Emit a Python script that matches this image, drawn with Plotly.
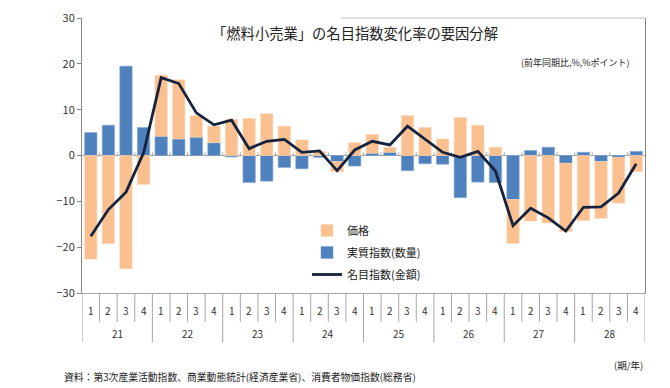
import plotly.graph_objects as go

# ---- data ----
years = ["21", "22", "23", "24", "25", "26", "27", "28"]
quarters = ["1", "2", "3", "4"]

real_index = [5.0, 6.6, 19.5, 6.1, 4.2, 3.6, 4.0, 2.8,
              -0.3, -5.9, -5.6, -2.6, -2.9, -0.4, -1.3, -2.3,
              0.5, 0.7, -3.3, -1.8, -1.9, -9.2, -5.8, -5.9,
              -9.6, 1.1, 1.8, -1.7, 0.7, -1.3, -0.4, 0.9]
price = [-22.6, -19.2, -24.7, -6.3, 13.3, 12.9, 4.7, 3.6,
         7.9, 8.1, 9.1, 6.4, 3.4, 0.9, -2.2, 2.8,
         4.1, 1.1, 8.7, 6.1, 3.6, 8.3, 6.6, 1.8,
         -9.6, -14.3, -14.7, -14.9, -14.2, -12.4, -10.0, -3.5]
nominal = [-17.6, -11.8, -8.0, 0.6, 17.0, 15.7, 9.3, 6.7,
           7.7, 1.5, 3.1, 3.5, 0.7, 1.0, -3.3, 1.2,
           3.1, 2.3, 6.4, 3.6, 0.7, -0.4, 0.9, -3.4,
           -15.3, -11.5, -13.6, -16.5, -11.3, -11.2, -8.2, -1.8]

title_text = "「燃料小売業」の名目指数変化率の要因分解"
unit_text = "(前年同期比,%,%ポイント)"
xunit_text = "(期/年)"
source_text = "資料：第3次産業活動指数、商業動態統計(経済産業省)、消費者物価指数(総務省)"

FONT = "Noto Sans CJK JP, Noto Sans, sans-serif"
n = len(real_index)
x = list(range(n))

# plot-area geometry in page pixels (page body has an 8px margin)
PL, PR, PT, PB = 82, 645, 18, 293
PW, PH = PR - PL, PB - PT


def px(v):
    return (v - PL) / PW


def py(v):
    return (PB - v) / PH


fig = go.Figure()
fig.add_trace(go.Bar(
    x=x, y=real_index, name="実質指数(数量)",
    marker=dict(color="#4F81BD", line=dict(color="#7FA3D3", width=0.6)),
    width=0.7, legendrank=2, legendgroup="b"))
fig.add_trace(go.Bar(
    x=x, y=price, name="価格",
    marker=dict(color="#FAC090", line=dict(color="#FCD5B4", width=0.6)),
    width=0.7, legendrank=1, legendgroup="a"))
fig.add_trace(go.Scatter(
    x=x, y=nominal, name="名目指数(金額)", mode="lines",
    line=dict(color="#15233D", width=2.8), legendrank=3, legendgroup="c"))

shapes = []
shapes.append(dict(type="line", xref="paper", yref="y", x0=0, x1=1, y0=0, y1=0,
                   line=dict(color="#A6A6A6", width=1), layer="below"))
for b in range(n + 1):
    xb = b - 0.5
    if 0 < b < n:
        shapes.append(dict(type="line", xref="x", yref="y", x0=xb, x1=xb, y0=0, y1=0.7,
                           line=dict(color="#A6A6A6", width=1), layer="below"))
    yend = -0.18 if b % 4 == 0 else -0.105
    shapes.append(dict(type="line", xref="x", yref="paper", x0=xb, x1=xb, y0=0, y1=yend,
                       line=dict(color="#A6A6A6", width=1)))
shapes.append(dict(type="line", xref="paper", yref="paper", x0=0.46, x1=1, y0=1, y1=1,
                   line=dict(color="#BFBFBF", width=1)))

annotations = []
for i in range(n):
    annotations.append(dict(x=i, y=py(310), xref="x", yref="paper",
                            xanchor="center", yanchor="middle",
                            text=quarters[i % 4], showarrow=False,
                            font=dict(size=10, color="#333333", family=FONT)))
for j, yr in enumerate(years):
    annotations.append(dict(x=j * 4 + 1.5, y=py(333), xref="x", yref="paper",
                            xanchor="center", yanchor="middle",
                            text=yr, showarrow=False,
                            font=dict(size=10, color="#333333", family=FONT)))
annotations += [
    dict(x=px(355), y=py(32), xref="paper", yref="paper",
         xanchor="center", yanchor="middle", text=title_text, showarrow=False,
         font=dict(size=14.3, color="#222222", family=FONT)),
    dict(x=px(632), y=py(62), xref="paper", yref="paper",
         xanchor="right", yanchor="middle", text=unit_text, showarrow=False,
         font=dict(size=9, color="#222222", family=FONT)),
    dict(x=px(645), y=py(365), xref="paper", yref="paper",
         xanchor="right", yanchor="middle", text=xunit_text, showarrow=False,
         font=dict(size=9.5, color="#222222", family=FONT)),
    dict(x=px(62), y=py(377), xref="paper", yref="paper",
         xanchor="left", yanchor="middle", text=source_text, showarrow=False,
         font=dict(size=9.8, color="#222222", family=FONT)),
]

fig.update_layout(
    width=662, height=380,
    margin=dict(l=PL - 8, r=662 - (PR - 8), t=PT - 8, b=380 - (PB - 8),
                autoexpand=False),
    paper_bgcolor="white", plot_bgcolor="white",
    barmode="relative",
    font=dict(family=FONT, size=11, color="#333333"),
    showlegend=True,
    legend=dict(x=px(307), y=py(216), xanchor="left", yanchor="top",
                bgcolor="rgba(0,0,0,0)", font=dict(size=11, color="#222222", family=FONT),
                itemwidth=30, traceorder="grouped", tracegroupgap=3),
    xaxis=dict(range=[-0.5, n - 0.5], showticklabels=False, ticks="",
               showgrid=False, zeroline=False, showline=True, automargin=False,
               linecolor="#A6A6A6", linewidth=1),
    yaxis=dict(range=[-30, 30], dtick=10, tickmode="linear", showgrid=False,
               zeroline=False, showline=True, linecolor="#868686", linewidth=1,
               mirror=True, ticks="outside", ticklen=4, tickcolor="#868686",
               automargin=False,
               tickfont=dict(size=11, color="#333333", family=FONT)),
    shapes=shapes, annotations=annotations,
)

fig.write_html("out.html")
